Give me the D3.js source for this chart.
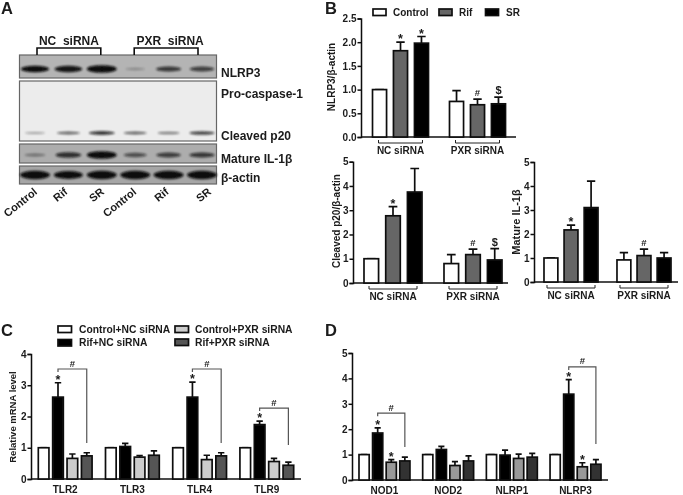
<!DOCTYPE html>
<html>
<head>
<meta charset="utf-8">
<script src="https://cdnjs.cloudflare.com/ajax/libs/d3/7.8.5/d3.min.js"></script>
<style>
  html, body { margin: 0; padding: 0; background: #fff; }
  text { font-family: "Liberation Sans", Arial, sans-serif; font-weight: bold; fill: #1a1a1a; }
</style>
</head>
<body>
<svg id="fig" width="683" height="495"></svg>
<script>
// ---- blot (A)
var lanes = ["Control", "Rif", "SR", "Control ", "Rif ", "SR "];
var blotLabels = ["NLRP3", "Pro-caspase-1", "Cleaved p20", "Mature IL-1\u03b2", "\u03b2-actin"];
var bandNlrp3 = [0.85, 0.8, 1, 0.12, 0.6, 0.55];
var bandCleaved = [0.2, 0.45, 0.65, 0.45, 0.35, 0.6];
var bandIl1b = [0.25, 0.65, 1, 0.45, 0.55, 0.6];
var bandActin = [1, 0.92, 1, 1, 1, 1];

// ---- B bars
var sirnaGroups = ["NC siRNA", "PXR siRNA"];
var treatments = ["Control", "Rif", "SR"];
var nlrp3Mean = [1, 1.82, 1.98, 0.75, 0.68, 0.70];
var nlrp3Top = [1, 2.0, 2.12, 0.98, 0.80, 0.84];
var nlrp3Marks = ["", "*", "*", "", "#", "$"];
var p20Mean = [1, 2.77, 3.75, 0.8, 1.17, 0.95];
var p20Top = [1, 3.15, 4.72, 1.17, 1.4, 1.42];
var p20Marks = ["", "*", "", "", "#", "$"];
var il1bMean = [1, 2.17, 3.1, 0.92, 1.1, 1.0];
var il1bTop = [1, 2.37, 4.2, 1.22, 1.37, 1.22];
var il1bMarks = ["", "*", "", "", "#", ""];

// ---- C bars
var tlrGenes = ["TLR2", "TLR3", "TLR4", "TLR9"];
var comboSeries = ["Control+NC siRNA", "Rif+NC siRNA", "Control+PXR siRNA", "Rif+PXR siRNA"];
var tlrMean = [1, 2.62, 0.66, 0.74, 1, 1.04, 0.7, 0.76, 1, 2.62, 0.62, 0.74, 1, 1.74, 0.56, 0.44];
var tlrTop = [1, 3.08, 0.8, 0.84, 1, 1.14, 0.75, 0.9, 1, 3.1, 0.76, 0.84, 1, 1.85, 0.66, 0.54];
var tlrMarks = ["", "*", "", "", "", "", "", "", "", "*", "", "", "", "*", "", ""];
var tlrSig = [{gene: "TLR2", top: 3.52, drop: 1.15}, {gene: "TLR4", top: 3.52, drop: 1.15}, {gene: "TLR9", top: 2.27, drop: 1.09}];

// ---- D bars
var nlrGenes = ["NOD1", "NOD2", "NLRP1", "NLRP3"];
var nlrMean = [1, 1.85, 0.7, 0.75, 1, 1.2, 0.57, 0.75, 1, 0.98, 0.85, 0.9, 1, 3.38, 0.52, 0.62];
var nlrTop = [1, 2.05, 0.8, 0.9, 1, 1.32, 0.72, 0.95, 1, 1.18, 1.02, 1.05, 1, 3.95, 0.68, 0.8];
var nlrMarks = ["", "*", "*", "", "", "", "", "", "", "", "", "", "", "*", "*", ""];
var nlrSig = [{gene: "NOD1", top: 2.63, drop: 1.3}, {gene: "NLRP3", top: 4.45, drop: 1.42}];

var svg = d3.select("#fig");
var defs = svg.append("defs");
defs.append("filter").attr("id", "soft").append("feGaussianBlur").attr("stdDeviation", 0.4);
defs.append("filter").attr("id", "bandBlur").attr("x", "-30%").attr("y", "-100%").attr("width", "160%").attr("height", "300%")
    .append("feGaussianBlur").attr("stdDeviation", 1);
var root = svg.append("g").attr("filter", "url(#soft)");

function panelLetter(s, x, y) {
  root.append("text").attr("x", x).attr("y", y).attr("font-size", 16.5).text(s);
}
panelLetter("A", 1, 14);
panelLetter("B", 325, 14);
panelLetter("C", 1, 336);
panelLetter("D", 325, 336);

//---------------------------------- A: blot
var laneX = d3.scalePoint().domain(lanes).range([35, 202]);
var bandW = d3.scaleLinear().domain([0, 1]).range([9, 15]);
var bandH = d3.scaleLinear().domain([0, 1]).range([0.8, 3.8]);

function blotStrip(y0, y1, bg, bands, bandY, dark) {
  var g = root.append("g");
  g.append("rect").attr("x", 19.5).attr("y", y0).attr("width", 197).attr("height", y1 - y0)
      .attr("fill", bg).attr("stroke", "#666").attr("stroke-width", 1.2);
  g.selectAll("ellipse").data(bands).join("ellipse")
      .attr("cx", function (d, i) { return laneX(lanes[i]); })
      .attr("cy", bandY)
      .attr("rx", function (d) { return bandW(d); })
      .attr("ry", function (d) { return bandH(d) * (dark || 1); })
      .attr("fill", "#0c0c0c")
      .attr("opacity", function (d) { return Math.min(1, d + 0.15); })
      .attr("filter", "url(#bandBlur)");
}
blotStrip(55, 78, "#b4b4b4", bandNlrp3, 69);
blotStrip(81, 141, "#ececec", bandCleaved, 133, 0.7);
blotStrip(144, 163, "#adadad", bandIl1b, 155);
blotStrip(166, 184, "#a6a6a6", bandActin, 175, 1.1);

root.selectAll(".blotLabel").data(blotLabels).join("text").attr("class", "blotLabel")
    .attr("x", 221)
    .attr("y", function (d, i) { return [77, 98, 140, 163, 182][i]; })
    .attr("font-size", 12).text(function (d) { return d; });

var laneLabelShift = [3, 0, 3, 2, 1, 10];
root.selectAll(".laneLabel").data(lanes).join("text").attr("class", "laneLabel")
    .attr("text-anchor", "end").attr("font-size", 11)
    .attr("transform", function (d, i) { return "translate(" + (laneX(d) + laneLabelShift[i]) + ",193) rotate(-39)"; })
    .text(function (d) { return d.trim(); });

sirnaGroups.forEach(function (g, i) {
  var a = laneX(lanes[i * 3]) + 2 - i * 3, b = laneX(lanes[i * 3 + 2]) - 1 - i * 3;
  root.append("path").attr("d", "M" + a + ",55V48H" + b + "V55").attr("fill", "none")
      .attr("stroke", "#111").attr("stroke-width", 1.6);
  root.append("text").attr("x", (a + b) / 2 + i * 4).attr("y", 45).attr("text-anchor", "middle")
      .attr("font-size", 12).attr("xml:space", "preserve").text(g.replace(" ", "  "));
});

//---------------------------------- bar panels
// cfg: screen box of the panel and the scale setup
function barPanel(cfg) {
  var nSeries = cfg.series.length;
  var g = root.append("g");
  var y = d3.scaleLinear().domain([0, cfg.yMax]).range([cfg.y0, cfg.y1]);
  var x0 = d3.scaleBand().domain(cfg.groups).range(cfg.barRange).paddingInner(cfg.padGroup);
  var x1 = d3.scaleBand().domain(cfg.series).range([0, x0.bandwidth()]).paddingInner(cfg.padBar);
  var rows = cfg.mean.map(function (m, i) {
    var grp = cfg.groups[Math.floor(i / nSeries)], s = cfg.series[i % nSeries];
    return {mean: m, top: cfg.top[i], mark: cfg.marks[i], x: x0(grp) + x1(s), fill: cfg.fills[i % nSeries]};
  });

  var ax = d3.axisLeft(y).tickValues(cfg.ticks).tickFormat(d3.format(cfg.fmt)).tickSize(3.5).tickPadding(1);
  var axG = g.append("g").attr("transform", "translate(" + cfg.xAxis + ",0)").call(ax);
  axG.selectAll("line, path").attr("stroke", "#111").attr("stroke-width", 1.5);
  axG.selectAll("text").attr("font-size", 10);
  g.append("line").attr("x1", cfg.xAxis).attr("x2", cfg.xEnd).attr("y1", cfg.y0).attr("y2", cfg.y0)
      .attr("stroke", "#111").attr("stroke-width", 1.5);

  g.selectAll(".err").data(rows).join("path").attr("class", "err")
      .attr("d", function (d) {
        var c = d.x + x1.bandwidth() / 2, w = x1.bandwidth() * 0.3;
        return "M" + c + "," + y(d.mean) + "V" + y(d.top) + "M" + (c - w) + "," + y(d.top) + "H" + (c + w);
      })
      .attr("stroke", "#111").attr("stroke-width", 1.7).attr("fill", "none");
  g.selectAll(".bar").data(rows).join("rect").attr("class", "bar")
      .attr("x", function (d) { return d.x; })
      .attr("y", function (d) { return y(d.mean); })
      .attr("width", x1.bandwidth())
      .attr("height", function (d) { return y(0) - y(d.mean); })
      .attr("fill", function (d) { return d.fill; })
      .attr("stroke", "#111").attr("stroke-width", 1.7);
  g.selectAll(".mark").data(rows.filter(function (d) { return d.mark; })).join("text").attr("class", "mark")
      .attr("x", function (d) { return d.x + x1.bandwidth() / 2; })
      .attr("y", function (d) { return y(d.top) + (d.mark === "*" ? 1 : -3); })
      .attr("text-anchor", "middle")
      .attr("font-size", function (d) { return d.mark === "*" ? 12.5 : d.mark === "#" ? 9.5 : 11; })
      .text(function (d) { return d.mark; });

  (cfg.sig || []).forEach(function (s) {
    var a = x0(s.gene) + x1(cfg.series[1]) + x1.bandwidth() / 2;
    var b = x0(s.gene) + x1(cfg.series[3]) + x1.bandwidth() / 2;
    g.append("path").attr("fill", "none").attr("stroke", "#555").attr("stroke-width", 1.2)
        .attr("d", "M" + a + "," + (y(s.top) + 3) + "V" + y(s.top) + "H" + b + "V" + y(s.drop));
    g.append("text").attr("x", (a + b) / 2).attr("y", y(s.top) - 2.5).attr("text-anchor", "middle")
        .attr("font-size", 9.5).text("#");
  });

  if (cfg.brackets) {
    cfg.groups.forEach(function (gr) {
      var a = x0(gr) + cfg.brackets.inset, b = x0(gr) + x0.bandwidth() - cfg.brackets.inset;
      g.append("path").attr("fill", "none").attr("stroke", "#222").attr("stroke-width", 1)
          .attr("d", "M" + a + "," + (cfg.y0 + 3) + "v3H" + b + "v-3");
      g.append("text").attr("x", (a + b) / 2).attr("y", cfg.y0 + cfg.brackets.dy)
          .attr("text-anchor", "middle").attr("font-size", 10).text(gr);
    });
  } else {
    cfg.groups.forEach(function (gr) {
      g.append("text").attr("x", x0(gr) + x0.bandwidth() / 2).attr("y", cfg.y0 + 14)
          .attr("text-anchor", "middle").attr("font-size", 10).text(gr);
    });
  }

  if (cfg.yLabel) {
    g.append("text").attr("text-anchor", "middle").attr("font-size", cfg.labelFont)
        .attr("transform", "translate(" + cfg.labelX + "," + cfg.labelY + ") rotate(-90)")
        .text(cfg.yLabel);
  }
}

var triFills = ["#fff", "#666", "#000"];
barPanel({groups: sirnaGroups, series: treatments, mean: nlrp3Mean, top: nlrp3Top, marks: nlrp3Marks, fills: triFills,
  yMax: 2.5, ticks: [0, 0.5, 1, 1.5, 2, 2.5], fmt: ".1f", y0: 137, y1: 18.5, xAxis: 361, xEnd: 516,
  barRange: [372.5, 505.5], padGroup: 0.273, padBar: 0.33, brackets: {inset: 6, dy: 16.5},
  yLabel: "NLRP3/\u03b2-actin", labelX: 335, labelY: 77, labelFont: 10});
barPanel({groups: sirnaGroups, series: treatments, mean: p20Mean, top: p20Top, marks: p20Marks, fills: triFills,
  yMax: 5, ticks: [0, 1, 2, 3, 4, 5], fmt: "d", y0: 283, y1: 161.7, xAxis: 353, xEnd: 508,
  barRange: [364, 502], padGroup: 0.275, padBar: 0.33, brackets: {inset: 5, dy: 16.5},
  yLabel: "Cleaved p20/\u03b2-actin", labelX: 340, labelY: 221, labelFont: 10});
barPanel({groups: sirnaGroups, series: treatments, mean: il1bMean, top: il1bTop, marks: il1bMarks, fills: triFills,
  yMax: 5, ticks: [0, 1, 2, 3, 4, 5], fmt: "d", y0: 282, y1: 162, xAxis: 534, xEnd: 678,
  barRange: [544, 671], padGroup: 0.26, padBar: 0.31, brackets: {inset: 3, dy: 16.5},
  yLabel: "Mature IL-1\u03b2", labelX: 520, labelY: 222, labelFont: 11});
barPanel({groups: tlrGenes, series: comboSeries, mean: tlrMean, top: tlrTop, marks: tlrMarks,
  fills: ["#fff", "#000", "#ccc", "#555"], sig: tlrSig,
  yMax: 4, ticks: [0, 1, 2, 3, 4], fmt: "d", y0: 479, y1: 354, xAxis: 31, xEnd: 301,
  barRange: [38.3, 293.7], padGroup: 0.2, padBar: 0.26,
  yLabel: "Relative mRNA level", labelX: 16, labelY: 417, labelFont: 9.5});
barPanel({groups: nlrGenes, series: comboSeries, mean: nlrMean, top: nlrTop, marks: nlrMarks,
  fills: ["#fff", "#000", "#999", "#333"], sig: nlrSig,
  yMax: 5, ticks: [0, 1, 2, 3, 4, 5], fmt: "d", y0: 480, y1: 353, xAxis: 352, xEnd: 608,
  barRange: [359, 601], padGroup: 0.2, padBar: 0.25});

//---------------------------------- legends
function legendItem(label, fill, bx, by, tx, ty, bw, bh, fs) {
  root.append("rect").attr("x", bx).attr("y", by).attr("width", bw).attr("height", bh)
      .attr("fill", fill).attr("stroke", "#111").attr("stroke-width", 1.7);
  root.append("text").attr("x", tx).attr("y", ty).attr("font-size", fs).text(label);
}
legendItem(treatments[0], triFills[0], 373, 9, 393, 16, 13, 6.5, 10);
legendItem(treatments[1], triFills[1], 439, 9, 459, 16, 13, 6.5, 10);
legendItem(treatments[2], triFills[2], 485.5, 9, 506, 16, 13, 6.5, 10);
legendItem(comboSeries[0], "#fff", 58, 326, 79, 332.5, 13.5, 6.5, 10.3);
legendItem(comboSeries[1], "#000", 58, 339.5, 79, 346, 13.5, 6.5, 10.3);
legendItem(comboSeries[2], "#ccc", 175, 326, 195, 332.5, 13.5, 6.5, 10.3);
legendItem(comboSeries[3], "#555", 175, 339, 195, 345.5, 13.5, 6.5, 10.3);
</script>
</body>
</html>
